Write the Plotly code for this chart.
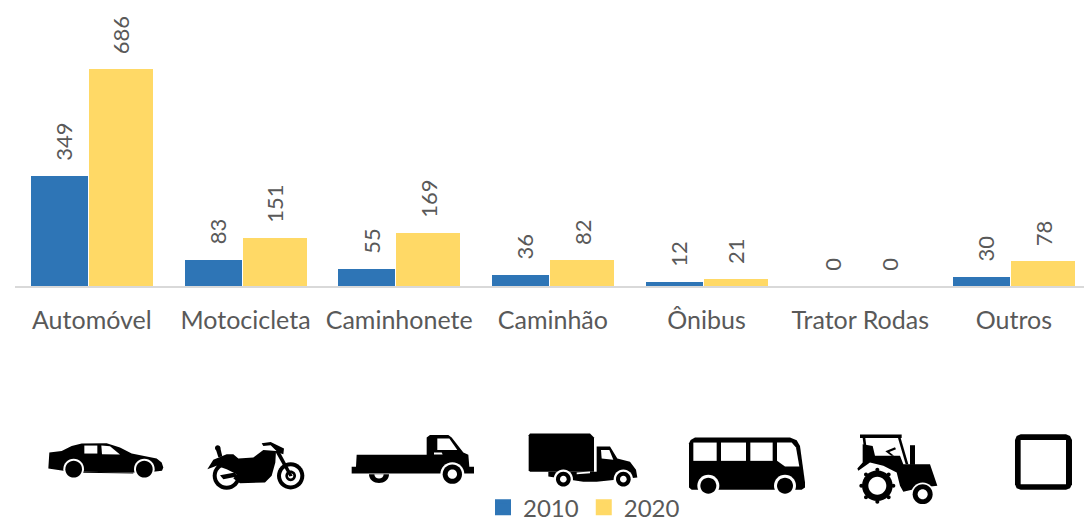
import plotly.graph_objects as go

categories = ["Automóvel", "Motocicleta", "Caminhonete", "Caminhão", "Ônibus", "Trator Rodas", "Outros"]
values_2010 = [349, 83, 55, 36, 12, 0, 30]
values_2020 = [686, 151, 169, 82, 21, 0, 78]
series_names = ["2010", "2020"]

W, H = 1084, 522
L, BASE = 15, 286.5
PW = W - L
BLUE, YELLOW = "#2E75B6", "#FFD966"
TXT = "#595959"
FONT = "Lato, Carlito, sans-serif"

fig = go.Figure()
fig.add_bar(name=series_names[0], x=categories, y=values_2010, width=0.371, offset=-0.396,
            marker=dict(color=BLUE, line_width=0), showlegend=False)
fig.add_bar(name=series_names[1], x=categories, y=values_2020, width=0.4165, offset=-0.0182,
            marker=dict(color=YELLOW, line_width=0), showlegend=False)

# legend entries (thicker outline gives the larger swatch)
for nm, col in zip(series_names, (BLUE, YELLOW)):
    fig.add_bar(name=nm, x=[None], y=[None], marker=dict(color=col, line=dict(color=col, width=4)))

anns = []
for i, c in enumerate(categories):
    for v, dx in ((values_2010[i], -28), (values_2020[i], 29)):
        anns.append(dict(x=c, y=v, text=str(v), textangle=-90, showarrow=False, xanchor="center",
                         yanchor="bottom", xshift=dx, yshift=13,
                         font=dict(family=FONT, size=22, color=TXT)))


def P(x, y):
    return f"{(x - L) / PW:.5f},{(BASE - y) / BASE:.5f}"


def Zm(ox, oy):
    return lambda x, y: (ox + x / 3, oy + y / 3)


shapes = []


def add(path, color="black"):
    shapes.append(dict(type="path", xref="paper", yref="paper", path=path, fillcolor=color,
                       line=dict(width=0), layer="above"))


def poly(z, pts, color="black"):
    s = []
    for j, (x, y) in enumerate(pts):
        s.append(("M" if j == 0 else "L") + P(*z(x, y)))
    add(" ".join(s) + " Z", color)


def circ(z, cx, cy, r, color="black"):
    x, y = z(cx, cy)
    R = r / 3
    k = 0.5523 * R
    add(f"M{P(x + R, y)} C{P(x + R, y + k)} {P(x + k, y + R)} {P(x, y + R)} "
        f"C{P(x - k, y + R)} {P(x - R, y + k)} {P(x - R, y)} "
        f"C{P(x - R, y - k)} {P(x - k, y - R)} {P(x, y - R)} "
        f"C{P(x + k, y - R)} {P(x + R, y - k)} {P(x + R, y)} Z", color)


# car
z = Zm(0, 420)
poly(z, [(148, 100), (185, 95), (215, 80), (245, 73), (320, 72), (360, 85), (395, 103), (470, 118), (485, 130),
         (490, 145), (486, 155), (460, 158), (405, 160), (250, 158), (190, 155), (145, 148)])
poly(z, [(253, 79), (292, 79), (292, 103), (253, 103)], "white")
poly(z, [(304, 79), (330, 81), (360, 106), (306, 105)], "white")
for cx in (221, 433):
    circ(z, cx, 150, 31, "white")
    circ(z, cx, 150, 25)
poly(z, [(400, 160), (250, 158), (250, 161), (400, 163)], "black")

# motorcycle
circ(z, 680, 170, 42)
circ(z, 680, 170, 30, "white")
circ(z, 872, 170, 41)
circ(z, 872, 170, 29, "white")
circ(z, 872, 170, 16)
circ(z, 872, 170, 8, "white")
poly(z, [(622, 150), (640, 122), (680, 105), (700, 105), (715, 118), (760, 115), (790, 92), (828, 95),
         (826, 130), (815, 170), (795, 190), (720, 192), (700, 178), (710, 165), (680, 150), (650, 140)])
poly(z, [(660, 168), (705, 160), (712, 172), (670, 180)])
poly(z, [(646, 85), (660, 82), (667, 112), (655, 114)])
circ(z, 653, 86, 8)
poly(z, [(785, 72), (812, 68), (852, 88), (850, 105), (834, 100), (812, 78), (790, 80)])
poly(z, [(825, 95), (838, 95), (878, 170), (868, 172)])

# pickup
z = Zm(330, 420)
poly(z, [(80, 107), (290, 107), (290, 55), (300, 47), (355, 47), (365, 55), (400, 100), (415, 107), (418, 143),
         (432, 143), (432, 163), (65, 163), (65, 143), (78, 143)])
poly(z, [(322, 58), (358, 58), (382, 92), (322, 92)], "white")
poly(z, [(312, 100), (335, 100), (338, 106), (312, 106)], "white")
circ(z, 367, 165, 36, "white")
circ(z, 367, 165, 29)
circ(z, 367, 165, 14, "white")
add(" ".join(["M" + P(*z(117, 165)), "C" + P(*z(117, 200)), P(*z(177, 200)), P(*z(177, 165)), "Z"]))
add(" ".join(["M" + P(*z(133, 165)), "C" + P(*z(133, 182)), P(*z(161, 182)), P(*z(161, 165)), "Z"]), "white")

# box truck
poly(z, [(596, 48), (600, 43), (780, 43), (792, 55), (792, 158), (600, 158), (596, 153)])
poly(z, [(800, 82), (840, 82), (862, 118), (900, 128), (918, 152), (922, 175), (800, 188), (760, 188), (655, 172), (655, 158), (800, 158)])
poly(z, [(813, 92), (838, 92), (850, 122), (815, 118)], "white")
poly(z, [(740, 160), (780, 157), (780, 162), (740, 165)], "white")
for cx in (700, 880):
    circ(z, cx, 180, 29, "white")
    circ(z, cx, 180, 22)
    circ(z, cx, 180, 10, "white")

# bus
z = Zm(670, 420)
poly(z, [(57, 72), (62, 62), (75, 55), (360, 55), (380, 63), (390, 80), (405, 190), (405, 205), (395, 212),
         (65, 212), (57, 205)])
poly(z, [(70, 70), (140, 70), (140, 125), (70, 125)], "white")
poly(z, [(153, 70), (228, 70), (228, 125), (153, 125)], "white")
poly(z, [(241, 70), (308, 70), (308, 125), (241, 125)], "white")
poly(z, [(321, 70), (365, 70), (378, 85), (388, 142), (345, 142), (321, 125)], "white")
for cx in (115, 345):
    circ(z, cx, 200, 33, "white")
    circ(z, cx, 200, 24)

# tractor
poly(z, [(570, 46), (695, 46), (695, 56), (570, 56)])
poly(z, [(578, 56), (586, 56), (589, 80), (581, 80)])
poly(z, [(684, 56), (692, 56), (715, 135), (707, 135)])
poly(z, [(578, 75), (608, 80), (615, 110), (690, 110), (700, 135), (780, 135), (802, 200), (755, 205),
         (700, 218), (690, 200), (680, 160), (640, 140), (600, 130), (565, 155), (562, 148), (578, 130)])
poly(z, [(720, 78), (735, 78), (735, 137), (720, 137)])
poly(z, [(646, 96), (675, 84), (678, 90), (658, 98), (672, 110), (664, 110)])
circ(z, 622, 200, 57, "white")
circ(z, 622, 200, 46)
for ang in ((-48, 0), (48, 0), (0, -48), (0, 48), (34, 34), (-34, 34), (34, -34), (-34, -34)):
    circ(z, 622 + ang[0], 200 + ang[1], 6)
circ(z, 622, 200, 27, "white")
circ(z, 758, 225, 35, "white")
circ(z, 758, 225, 30)
circ(z, 758, 225, 15, "white")

# empty square (rounded)
poly(z, [(1035, 62), (1040, 50), (1052, 45), (1188, 45), (1200, 50), (1206, 62), (1206, 195), (1200, 207),
         (1188, 212), (1052, 212), (1040, 207), (1035, 195)])
poly(z, [(1052, 62), (1188, 62), (1188, 195), (1052, 195)], "white")

fig.update_layout(
    width=W, height=H, margin=dict(l=L, r=0, t=0, b=H - BASE, pad=0, autoexpand=False),
    paper_bgcolor="white", plot_bgcolor="white", barmode="overlay", bargap=0,
    font=dict(family=FONT, color=TXT, size=24),
    shapes=shapes, annotations=anns,
    legend=dict(orientation="h", x=(483 - L) / PW, xanchor="left", y=(BASE - 486) / BASE, yanchor="top",
                font=dict(family=FONT, size=24, color=TXT), bgcolor="rgba(0,0,0,0)",
                itemwidth=30, traceorder="normal"),
    xaxis=dict(type="category", categoryorder="array", categoryarray=categories, range=[-0.5, 6.456],
               showgrid=False, zeroline=False, showline=True, linecolor="#D9D9D9", linewidth=2,
               ticks="", ticklabelstandoff=11, tickfont=dict(family=FONT, size=25, color=TXT)),
    yaxis=dict(range=[0, 906], visible=False, showgrid=False, zeroline=False),
    showlegend=True,
)
fig.write_html("out.html", config=dict(displayModeBar=False),
               post_script="document.body.style.margin='0';document.documentElement.style.overflow='hidden';")
